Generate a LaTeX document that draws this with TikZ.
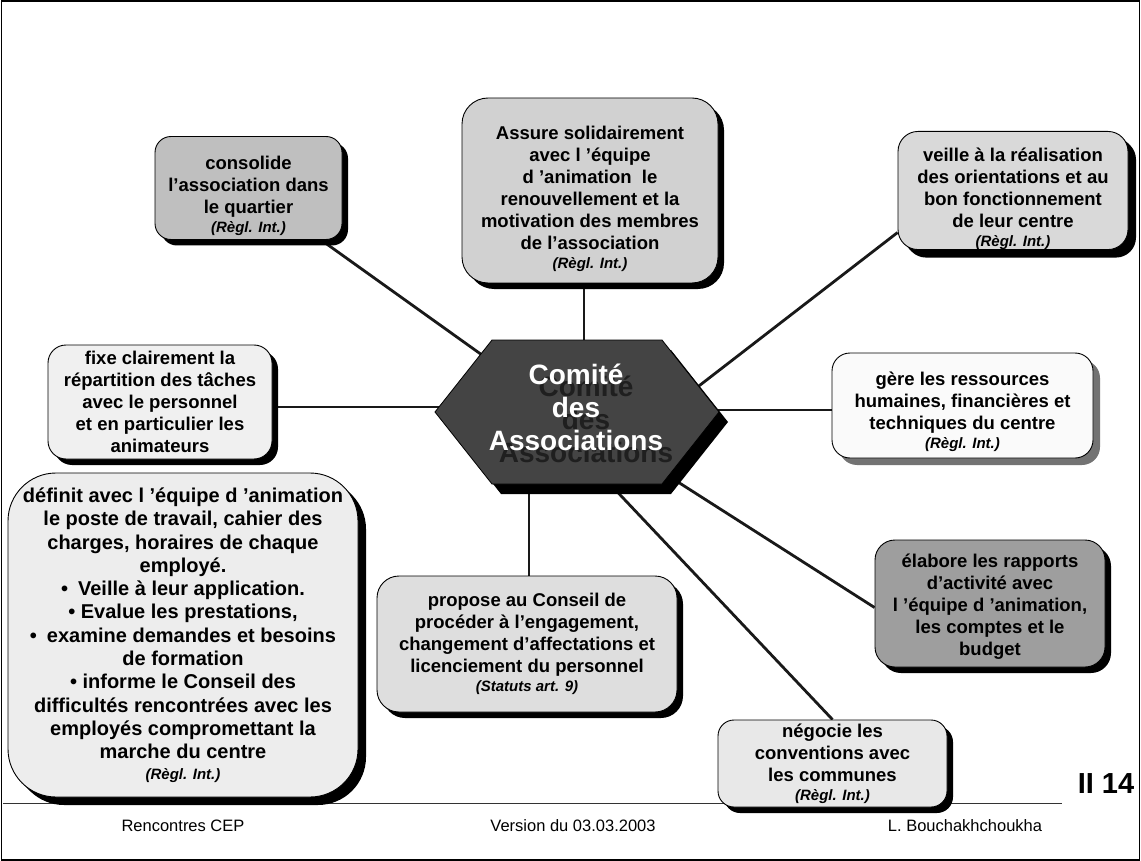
\documentclass[tikz,border=0pt]{standalone}
\usepackage{fontspec}
\setmainfont{Liberation Sans}
\usetikzlibrary{shadows,backgrounds}

\newcommand{\cardfont}{\fontsize{18.5}{22}\selectfont\bfseries}
\newcommand{\widecardfont}{\fontsize{20}{23.3}\selectfont\bfseries}
\newcommand{\reffont}{\fontsize{15}{17}\selectfont\bfseries\itshape}
\newcommand{\hubfont}{\fontsize{28}{33}\selectfont\bfseries}
\newcommand{\footfont}{\fontsize{16.5}{19}\selectfont}
% a tall invisible strut on the first line pushes a card's text block downwards
\newcommand{\pushdown}[1]{\rule{0pt}{#1}}

\definecolor{hubgray}{HTML}{444444}

\begin{document}
\begin{tikzpicture}[x=1pt,y=-1pt,
  card/.style={draw=black, line width=0.9pt, align=center, inner sep=0pt,
    font=\cardfont, text=black,
    drop shadow={shadow xshift=6pt, shadow yshift=-6pt, fill=black, opacity=1}},
  softcard/.style={draw=black, line width=0.9pt, align=center, inner sep=0pt,
    font=\cardfont, text=black,
    drop shadow={shadow xshift=7pt, shadow yshift=-7pt, fill=black!55, opacity=1}},
  link/.style={line width=2.8pt, draw=black!90},
]
\useasboundingbox (0,0) rectangle (1141,861);

% central hexagon with its drop shadow
\begin{scope}[shift={(9,10)}]
  \fill[black] (435,412) -- (492,340) -- (662,340) -- (719,412) -- (662,484) -- (492,484) -- cycle;
\end{scope}
\filldraw[fill=hubgray, draw=black, line width=0.8pt]
  (435,412) -- (492,340) -- (662,340) -- (719,412) -- (662,484) -- (492,484) -- cycle;
\node[font=\hubfont, text=black!88, align=center] (hubshade) at (586,419) {Comité\\des\\Associations};
\node[font=\hubfont, text=white, align=center] (hub) at (576,407) {Comité\\des\\Associations};

% connector ends hidden behind the hexagon
\coordinate (hA) at (510,375);
\coordinate (hB) at (584,380);
\coordinate (hC) at (660,416);
\coordinate (hD) at (470,407);
\coordinate (hE) at (690,410);
\coordinate (hG) at (529,450);
\coordinate (hH) at (620,445);
\coordinate (hI) at (590,463);

% task cards
\node[card, fill=black!25, rounded corners=16pt, minimum width=187pt, minimum height=103pt]
  (A) at (248.5,188) {\pushdown{30pt}consolide\\l’association dans\\le quartier\\[-3pt]{\reffont (Règl. Int.)}};

\node[card, fill=black!18, rounded corners=26pt, minimum width=256pt, minimum height=185pt]
  (B) at (590,190.5) {\pushdown{31pt}Assure solidairement\\avec l ’équipe\\d ’animation~ le\\renouvellement et la\\motivation des membres\\de l’association\\[-3pt]{\reffont (Règl. Int.)}};

\node[card, fill=black!15, rounded corners=20pt, minimum width=230pt, minimum height=117pt,
  drop shadow={shadow xshift=8pt, shadow yshift=-8pt, fill=black, opacity=1}]
  (C) at (1013,190.5) {\pushdown{30pt}veille à la réalisation\\des orientations et au\\bon fonctionnement\\de leur centre\\[-3pt]{\reffont (Règl. Int.)}};

\node[card, fill=black!6, rounded corners=18pt, minimum width=224pt, minimum height=114pt]
  (D) at (160,402) {fixe clairement la\\répartition des tâches\\avec le personnel\\et en particulier les\\animateurs};

\node[softcard, fill=black!2, rounded corners=18pt, minimum width=261pt, minimum height=105pt]
  (E) at (962.5,405.5) {\pushdown{26pt}gère les ressources\\humaines, financières et\\techniques du centre\\[-3pt]{\reffont (Règl. Int.)}};

\node[card, font=\widecardfont, fill=black!7, rounded corners=48pt, minimum width=350pt, minimum height=324pt,
  drop shadow={shadow xshift=8pt, shadow yshift=-8pt, fill=black, opacity=1}]
  (F) at (183,635) {définit avec l ’équipe d ’animation\\le poste de travail, cahier des\\charges, horaires de chaque\\employé.\\•\enspace Veille à leur application.\\• Evalue les prestations,\\•\enspace examine demandes et besoins\\de formation\\• informe le Conseil des\\difficultés rencontrées avec les\\employés compromettant la\\marche du centre\\[-3pt]{\reffont (Règl. Int.)}};

\node[card, fill=black!13, rounded corners=22pt, minimum width=300pt, minimum height=136pt]
  (G) at (527,644) {propose au Conseil de\\procéder à l’engagement,\\changement d’affectations et\\licenciement du personnel\\[-3pt]{\reffont (Statuts art. 9)}};

\node[card, fill=black!38, rounded corners=20pt, minimum width=230pt, minimum height=127pt]
  (H) at (990,603.5) {\pushdown{20pt}élabore les rapports\\d’activité avec\\l ’équipe d ’animation,\\les comptes et le\\budget};

\node[card, fill=black!9, rounded corners=16pt, minimum width=229pt, minimum height=87pt]
  (I) at (832.5,763.5) {négocie les\\conventions avec\\les communes\\[-3pt]{\reffont (Règl. Int.)}};

% footer
\coordinate (ruleL) at (3,803);
\coordinate (ruleR) at (1062,803);
\node[font=\footfont] (foot1) at (183,826) {Rencontres CEP};
\node[font=\footfont] (foot2) at (573,826) {Version du 03.03.2003};
\node[font=\footfont] (foot3) at (965,826) {L. Bouchakhchoukha};
\node[font=\fontsize{29}{33}\selectfont\bfseries] (page) at (1106,784) {II 14};

% frame, rule and connectors lie under every shape
\begin{pgfonlayer}{background}
  \draw[line width=1.3pt] (1.5,1) rectangle (1139.5,860);
  \draw[line width=0.8pt, black!80] (ruleL) -- (ruleR);
  \draw[link] (A) -- (hA);
  \draw[link] (hB |- B.south) -- (hB);
  \draw[link] (C.200) -- (hC);
  \draw[link] (D.east |- hD) -- (hD);
  \draw[link] (hE) -- (E.west |- hE);
  \draw[link] (hG) -- (hG |- G.north);
  \draw[link] (hH) -- (H.182);
  \draw[link] (hI) -- (I.north);
\end{pgfonlayer}
\end{tikzpicture}
\end{document}
